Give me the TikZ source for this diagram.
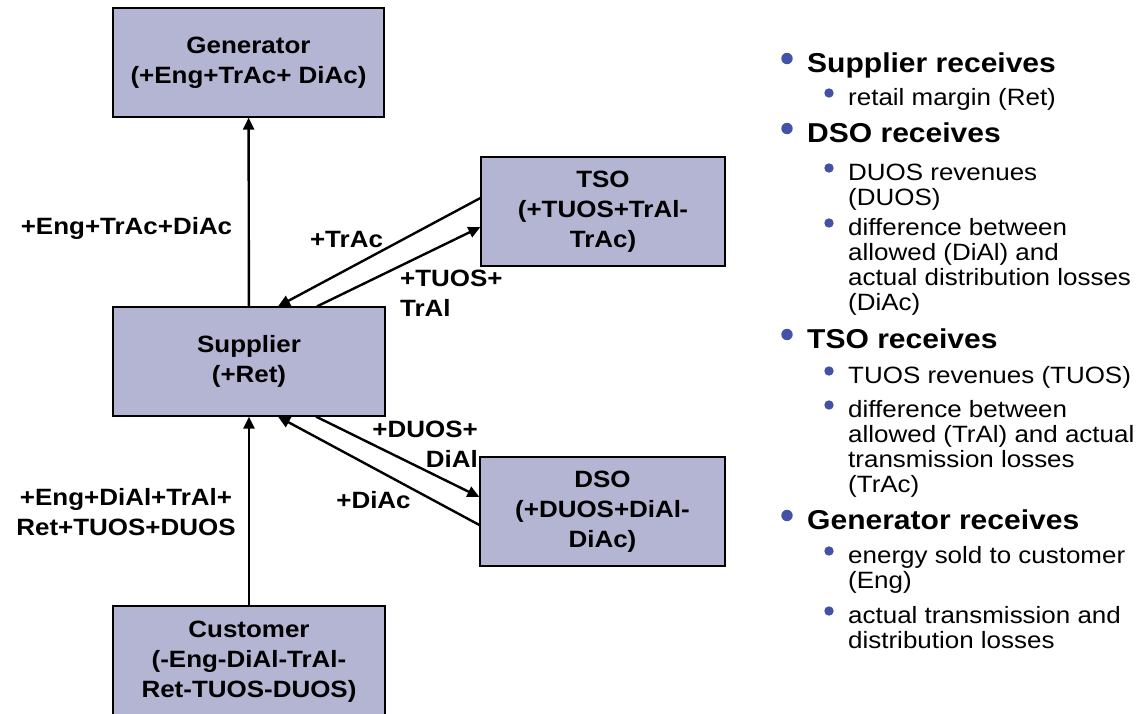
\documentclass[tikz,border=0pt]{standalone}
\usepackage{fontspec}
\setmainfont{Liberation Sans}[FakeStretch=1.1]
\usetikzlibrary{arrows.meta}
\definecolor{boxfill}{RGB}{180,181,210}
\definecolor{dotblue}{RGB}{66,82,166}
\newcommand{\boxfont}{\fontsize{23.6}{30}\selectfont\bfseries}
\newcommand{\headfont}{\fontsize{27.3}{30}\selectfont\bfseries}
\newcommand{\itemfont}{\fontsize{23.6}{25}\selectfont}
\tikzset{
  party/.style={draw, line width=1.2pt, fill=boxfill, align=center, font=\boxfont},
  flow/.style={-{Triangle[length=12pt,width=11pt]}, line width=2.4pt},
  flowlbl/.style={font=\boxfont, inner sep=0pt},
  headtxt/.style={font=\headfont, anchor=base west, inner sep=0pt},
  itemtxt/.style={font=\itemfont, anchor=base west, inner sep=0pt}
}

\begin{document}
\begin{tikzpicture}[x=1pt,y=-1pt]
  \clip (0,0) rectangle (1144,713);
  % the five parties
  \node[party, minimum width=271pt, minimum height=109pt] (gen) at (248.5,62.5) {Generator\\(+Eng+TrAc+ DiAc)};
  \node[party, minimum width=244pt, minimum height=109pt] (tso) at (603,211.5) {TSO\\(+TUOS+TrAl-\\TrAc)};
  \node[party, minimum width=272pt, minimum height=109pt] (sup) at (249,361.5) {Supplier\\(+Ret)};
  \node[party, minimum width=245pt, minimum height=109pt] (dso) at (602.5,511.5) {DSO\\(+DUOS+DiAl-\\DiAc)};
  \node[party, minimum width=272pt, minimum height=112pt] (cus) at (249,662) {Customer\\(-Eng-DiAl-TrAl-\\Ret-TUOS-DUOS)};

  % money flows
  \draw[flow] (sup) -- (gen);
  \draw[flow] (cus) -- (sup);
  \draw[flow] ([yshift=13.5pt]tso.west) -- ([xshift=29pt]sup.north);
  \draw[flow] ([xshift=68pt]sup.north) -- ([yshift=-15.5pt]tso.west);
  \draw[flow] ([xshift=67pt]sup.south) -- ([yshift=14.5pt]dso.west);
  \draw[flow] ([yshift=-13.5pt]dso.west) -- ([xshift=29pt]sup.south);

  \node[flowlbl, anchor=base] (lgen) at (126.5,234) {+Eng+TrAc+DiAc};
  \node[flowlbl, anchor=base] (ltrac) at (346.5,247) {+TrAc};
  \node[flowlbl, anchor=base west, align=left] (ltuos) at (400,316) {+TUOS+\\TrAl};
  \node[flowlbl, anchor=base east, align=right] (lduos) at (478,467) {+DUOS+\\DiAl};
  \node[flowlbl, anchor=base] (ldiac) at (373.5,508) {+DiAc};
  \node[flowlbl, anchor=base, align=center] (lcus) at (126,535) {+Eng+DiAl+TrAl+\\Ret+TUOS+DUOS};

  % who receives what
  \foreach \yb/\txt [count=\i] in {72/{Supplier receives}, 142/{DSO receives}, 348/{TSO receives}, 529/{Generator receives}}{
    \fill[dotblue] (787,\yb-13.5) circle (5.7);
    \node[headtxt] (head\i) at (807,\yb) {\txt};
  }
  \foreach \yb/\txt [count=\i] in {105/{retail margin (Ret)}, 180/{DUOS revenues}, 205/{(DUOS)},
      235/{difference between}, 260/{allowed (DiAl) and}, 285/{actual distribution losses}, 310/{(DiAc)},
      383/{TUOS revenues (TUOS)}, 417/{difference between}, 442/{allowed (TrAl) and actual},
      467/{transmission losses}, 492/{(TrAc)}, 563/{energy sold to customer}, 588/{(Eng)},
      623/{actual transmission and}, 648/{distribution losses}}{
    \node[itemtxt] (item\i) at (848,\yb) {\txt};
  }
  \foreach \yb in {105,180,235,383,417,563,623}
    \fill[dotblue] (829,\yb-12) circle (4.7);
\end{tikzpicture}
\end{document}
